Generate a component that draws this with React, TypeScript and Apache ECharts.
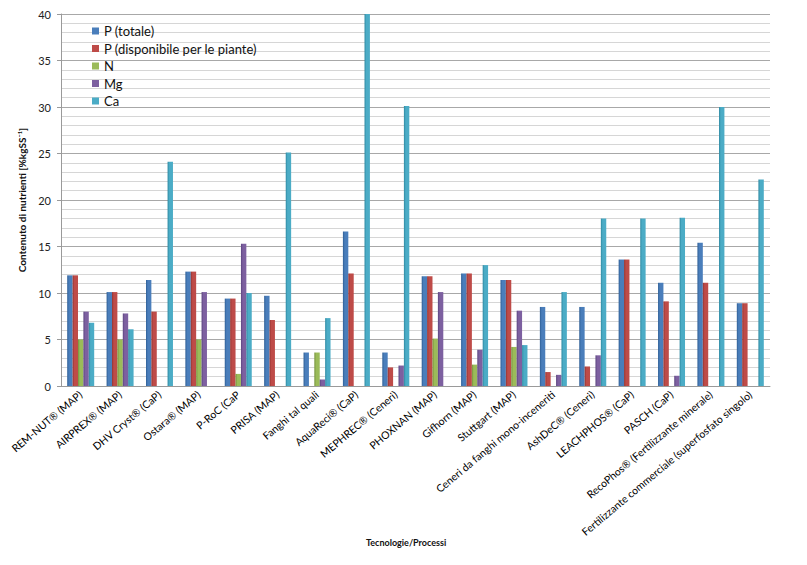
import React, { useEffect, useRef } from "react";
import * as echarts from "echarts";

const categories = [
  "REM-NUT® (MAP)",
  "AIRPREX® (MAP)",
  "DHV Cryst® (CaP)",
  "Ostara® (MAP)",
  "P-RoC (CaP",
  "PRISA (MAP)",
  "Fanghi tal quali",
  "AquaReci® (CaP)",
  "MEPHREC® (Ceneri)",
  "PHOXNAN (MAP)",
  "Gifhorn (MAP)",
  "Stuttgart (MAP)",
  "Ceneri da fanghi mono-inceneriti",
  "AshDeC® (Ceneri)",
  "LEACHPHOS® (CaP)",
  "PASCH (CaP)",
  "RecoPhos® (Fertilizzante minerale)",
  "Fertilizzante commerciale (superfosfato singolo)",
];

const seriesNames = ["P (totale)", "P (disponibile per le piante)", "N", "Mg", "Ca"];

const pTotale = [11.9, 10.1, 11.4, 12.3, 9.4, 9.7, 3.6, 16.6, 3.6, 11.8, 12.1, 11.4, 8.5, 8.5, 13.6, 11.1, 15.4, 8.9];
const pDisponibile = [11.9, 10.1, 8.0, 12.3, 9.4, 7.1, null, 12.1, 2.0, 11.8, 12.1, 11.4, 1.5, 2.1, 13.6, 9.1, 11.1, 8.9];
const nValues = [5.0, 5.0, null, 5.0, 1.3, null, 3.6, null, null, 5.1, 2.3, 4.2, null, null, null, null, null, null];
const mgValues = [8.0, 7.8, null, 10.1, 15.3, null, 0.7, null, 2.2, 10.1, 3.9, 8.1, 1.2, 3.3, null, 1.1, null, null];
const caValues = [6.8, 6.1, 24.1, null, 10.0, 25.1, 7.3, 40.0, 30.1, null, 13.0, 4.4, 10.1, 18.0, 18.0, 18.1, 30.0, 22.2];

const yTicks = { min: 0, max: 40, interval: 5 };

const colors = ["#4a7ebb", "#be4b48", "#9bbb59", "#7d60a0", "#4bacc6"];
const darkColors = ["#2f5f96", "#943532", "#76923c", "#5c4580", "#2f8aa3"];

export default function App() {
  const ref = useRef<HTMLDivElement>(null);

  useEffect(() => {
    if (!ref.current) return;
    const chart = echarts.init(ref.current, null, { renderer: "svg" });
    const allData = [pTotale, pDisponibile, nValues, mgValues, caValues];
    const font = "Lato, 'Noto Sans', sans-serif";

    const series = allData.map((d, i) => ({
      name: seriesNames[i],
      type: "bar",
      data: d.map((v) => (v === null ? "-" : v)),
      barWidth: 5.4,
      barGap: "0%",
      itemStyle: {
        color: new echarts.graphic.LinearGradient(0, 0, 1, 0, [
          { offset: 0, color: darkColors[i] },
          { offset: 0.35, color: colors[i] },
          { offset: 1, color: colors[i] },
        ]),
      },
    }));

    chart.setOption({
      animation: false,
      backgroundColor: "#ffffff",
      grid: { left: 61, right: 37, top: 14, bottom: 179 },
      legend: {
        orient: "vertical",
        left: 87,
        top: 19,
        itemWidth: 7,
        itemHeight: 7,
        itemGap: 3.5,
        icon: "rect",
        data: seriesNames.map((n, i) => ({ name: n, itemStyle: { color: colors[i] } })),
        textStyle: { fontFamily: font, fontSize: 13, color: "#111", lineHeight: 14 },
      },
      xAxis: {
        type: "category",
        data: categories,
        axisLine: { lineStyle: { color: "#9a9a9a" } },
        axisTick: { show: false },
        axisLabel: {
          interval: 0,
          rotate: 40,
          fontFamily: font,
          fontSize: 10.5,
          color: "#000",
          margin: 7,
        },
      },
      yAxis: {
        type: "value",
        min: yTicks.min,
        max: yTicks.max,
        interval: yTicks.interval,
        name: "Contenuto di nutrienti [%kgSS⁻¹]",
        nameLocation: "middle",
        nameGap: 17,
        nameTextStyle: { fontFamily: font, fontSize: 10, color: "#111", fontWeight: "bold" },
        axisLine: { show: true, lineStyle: { color: "#9a9a9a" } },
        axisTick: { show: true, length: 4, lineStyle: { color: "#9a9a9a" } },
        axisLabel: { fontFamily: font, fontSize: 11, color: "#222", margin: 10 },
        splitLine: { show: true, lineStyle: { color: "#a8a8a8", width: 1 } },
        minorTick: { show: false, splitNumber: 5 },
        minorSplitLine: { show: true, lineStyle: { color: "#d6d6d6", width: 1 } },
      },
      graphic: [
        {
          type: "text",
          left: 366,
          top: 538,
          style: {
            text: "Tecnologie/Processi",
            font: "bold 9px Lato, 'Noto Sans', sans-serif",
            fill: "#111",
          },
        },
      ],
      series,
    });

    return () => chart.dispose();
  }, []);

  return (
    <div
      ref={ref}
      style={{ position: "fixed", left: 0, top: 0, width: 807, height: 565, background: "#fff" }}
    />
  );
}
